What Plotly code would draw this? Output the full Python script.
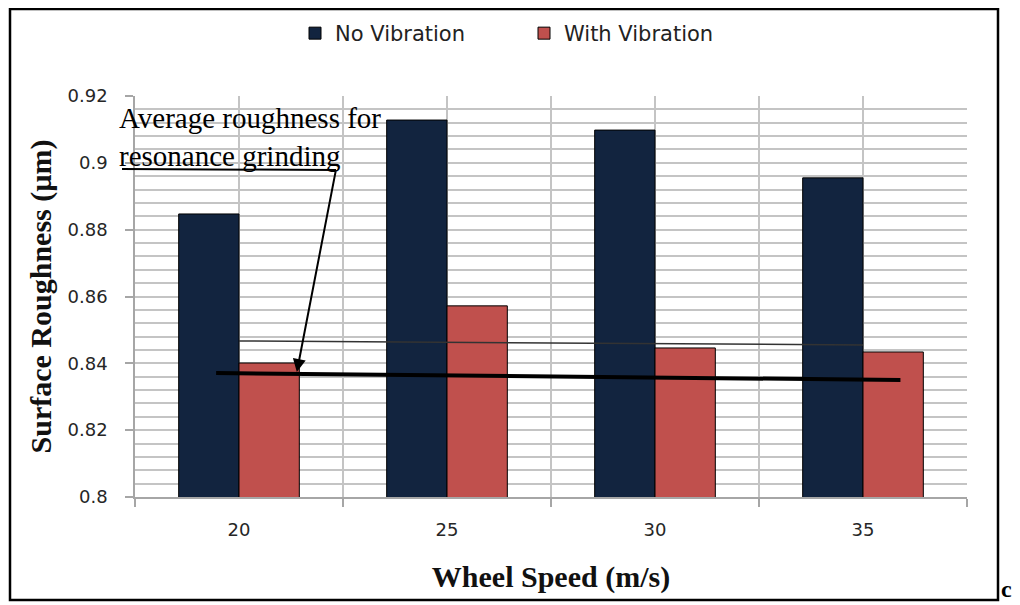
import plotly.graph_objects as go

# ---- data ----
speeds = [20, 25, 30, 35]
speed_labels = ["20", "25", "30", "35"]
no_vibration = [0.8847, 0.9128, 0.9098, 0.8955]
with_vibration = [0.8401, 0.8572, 0.8446, 0.8434]
y_ticks = [0.80, 0.82, 0.84, 0.86, 0.88, 0.90, 0.92]
y_tick_labels = ["0.8", "0.82", "0.84", "0.86", "0.88", "0.9", "0.92"]
boundaries = [17.5, 22.5, 27.5, 32.5, 37.5]

# hand-drawn reference lines on the chart (data units)
avg_line_x = [19.45, 35.9]
avg_line_y = [0.8371, 0.8350]
ref_line_x = [20, 35]
ref_line_y = [0.8467, 0.8455]
arrow_tip = (21.39, 0.8374)
arrow_tail = (22.33, 0.8979)

NAVY = "#12243f"
RED = "#c0504d"
GRID = "#c4c4c4"
AX = "#a6a6a6"

# the page body adds an 8px margin; the figure is shrunk by that amount
OFF = 8
W, H = 1020 - OFF, 605 - OFF
# plot-area geometry in reference pixels
L, R, T, B = 135, 967, 96, 497
XR = (17.5, 37.5)
YR = (0.80, 0.92)


def px2x(px):
    return XR[0] + (px - L) / (R - L) * (XR[1] - XR[0])


def px2y(py):
    return YR[1] - (py - T) / (B - T) * (YR[1] - YR[0])


def pxpx(px):
    return (px - L) / (R - L)


def pypy(py):
    return (B - py) / (B - T)


fig = go.Figure()
fig.add_trace(go.Bar(x=speeds, y=no_vibration, name="No Vibration",
                     marker=dict(color=NAVY, line=dict(color="#000000", width=1))))
fig.add_trace(go.Bar(x=speeds, y=with_vibration, name="With Vibration",
                     marker=dict(color=RED, line=dict(color="#000000", width=1))))

fig.update_layout(
    width=W, height=H,
    margin=dict(l=L - OFF, r=W - (R - OFF), t=T - OFF, b=H - (B - OFF), pad=0, autoexpand=False),
    paper_bgcolor="white", plot_bgcolor="white",
    barmode="group", bargap=0.42, bargroupgap=0,
    showlegend=True,
    legend=dict(orientation="h", x=pxpx(295), y=pypy(13), xanchor="left", yanchor="top",
                font=dict(family="DejaVu Sans", size=21, color="#222222"),
                entrywidth=184, entrywidthmode="pixels", bgcolor="rgba(0,0,0,0)"),
    font=dict(family="DejaVu Sans", color="#262626"),
)

fig.update_xaxes(
    range=list(XR), tickvals=speeds, ticktext=speed_labels, ticks="",
    showgrid=True, gridcolor=GRID, gridwidth=1.5,
    minor=dict(tickvals=boundaries, ticks="outside", ticklen=8, tickcolor=AX, tickwidth=1.5,
               showgrid=True, gridcolor=GRID, gridwidth=1.5),
    showline=True, linecolor=AX, linewidth=1.5, zeroline=False,
    tickfont=dict(family="DejaVu Sans", size=18, color="#262626"),
    ticklabelstandoff=16,
    title=dict(text="<b>Wheel Speed (m/s)</b>", standoff=27,
               font=dict(family="Liberation Serif", size=30, color="#111111")),
)
fig.update_yaxes(
    range=list(YR), tickvals=y_ticks, ticktext=y_tick_labels,
    ticks="outside", ticklen=8, tickcolor=AX, tickwidth=1.5,
    showgrid=True, gridcolor=GRID, gridwidth=1.5,
    minor=dict(dtick=0.004, tick0=0.8, showgrid=True, gridcolor=GRID, gridwidth=1.5),
    showline=True, linecolor=AX, linewidth=1.5, zeroline=False,
    tickfont=dict(family="DejaVu Sans", size=18, color="#262626"),
    ticklabelstandoff=14,
    title=dict(text="<b>Surface Roughness (µm)</b>", standoff=7,
               font=dict(family="Liberation Serif", size=30, color="#111111")),
)

# hand-drawn lines
fig.add_shape(type="line", x0=ref_line_x[0], y0=ref_line_y[0], x1=ref_line_x[1], y1=ref_line_y[1],
              xref="x", yref="y", line=dict(color="#333333", width=1.5))
fig.add_shape(type="line", x0=avg_line_x[0], y0=avg_line_y[0], x1=avg_line_x[1], y1=avg_line_y[1],
              xref="x", yref="y", line=dict(color="#000000", width=4))
# underline joined to the arrow (paper refs so it is not clipped at the axis)
fig.add_shape(type="line", xref="paper", yref="paper",
              x0=pxpx(122), y0=pypy(169), x1=pxpx(336), y1=pypy(170),
              line=dict(color="#000000", width=2))
fig.add_annotation(x=arrow_tip[0], y=arrow_tip[1], ax=arrow_tail[0], ay=arrow_tail[1],
                   xref="x", yref="y", axref="x", ayref="y", text="", showarrow=True,
                   arrowhead=2, arrowsize=1.3, arrowwidth=2, arrowcolor="#000000", standoff=0)
fig.add_annotation(x=pxpx(117), y=pypy(100), xref="paper", yref="paper",
                   xanchor="left", yanchor="top", align="left", showarrow=False,
                   text="Average roughness for<br>resonance grinding",
                   font=dict(family="Liberation Serif", size=29, color="#000000"))

# frame around the figure and panel letter
fig.add_shape(type="rect", xref="paper", yref="paper",
              x0=pxpx(10), x1=pxpx(998), y0=pypy(600), y1=pypy(9),
              line=dict(color="#000000", width=2.5), fillcolor="rgba(0,0,0,0)", layer="above")
fig.add_annotation(xref="paper", yref="paper", x=pxpx(1000), y=pypy(603), xanchor="left", yanchor="bottom",
                   text="<b>c</b>", showarrow=False, borderpad=0,
                   font=dict(family="Liberation Serif", size=24, color="#000000"))

fig.write_html("out.html")
